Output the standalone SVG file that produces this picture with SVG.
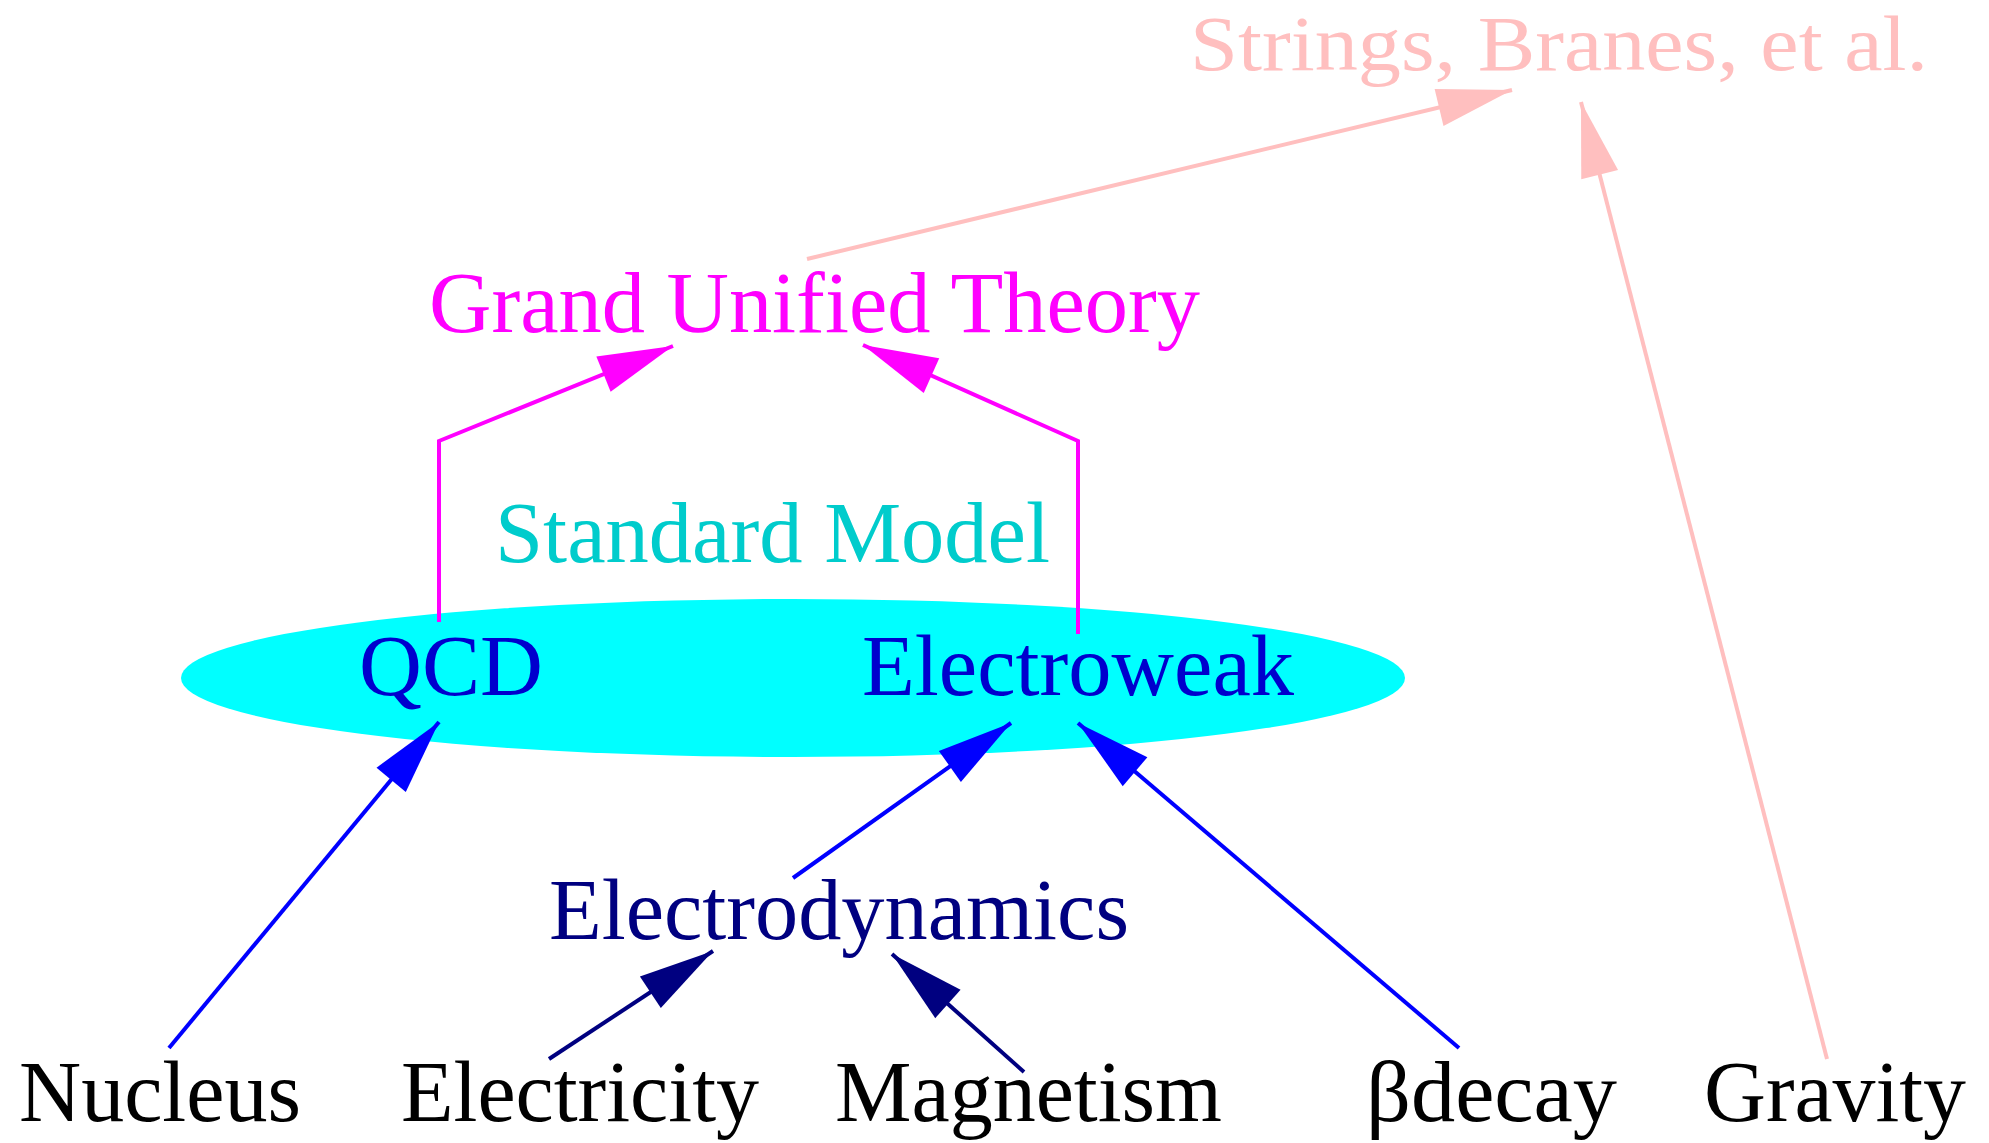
<svg xmlns="http://www.w3.org/2000/svg" width="1989" height="1143" viewBox="0 0 1989 1143">
<style>
text{font-family:"Liberation Serif","Times New Roman",serif;font-size:86px}
.e{fill:none;stroke-width:4}
</style>
<defs>
<marker id="ap" markerUnits="userSpaceOnUse" markerWidth="82" markerHeight="44" viewBox="-78 -22 80 44" refX="0" refY="0" orient="auto"><path d="M0,0 L-75,-19 L-75,19 z" fill="#ffbfbf"/></marker>
<marker id="am" markerUnits="userSpaceOnUse" markerWidth="82" markerHeight="44" viewBox="-78 -22 80 44" refX="0" refY="0" orient="auto"><path d="M0,0 L-75,-19 L-75,19 z" fill="#ff00ff"/></marker>
<marker id="ab" markerUnits="userSpaceOnUse" markerWidth="82" markerHeight="44" viewBox="-78 -22 80 44" refX="0" refY="0" orient="auto"><path d="M0,0 L-75,-19 L-75,19 z" fill="#0000ff"/></marker>
<marker id="an" markerUnits="userSpaceOnUse" markerWidth="82" markerHeight="44" viewBox="-78 -22 80 44" refX="0" refY="0" orient="auto"><path d="M0,0 L-75,-19 L-75,19 z" fill="#000080"/></marker>
</defs>
<rect width="1989" height="1143" fill="#ffffff"/>
<g id="standard_model">
<ellipse cx="793" cy="678" rx="612" ry="79" fill="#00ffff"/>
<text x="495" y="562" fill="#00cccc" textLength="555" lengthAdjust="spacingAndGlyphs">Standard Model</text>
</g>
<g id="connectors">
<path class="e" stroke="#ffbfbf" d="M807,259 L1512,90" marker-end="url(#ap)"/>
<path class="e" stroke="#ffbfbf" d="M1827,1059 L1581,102" marker-end="url(#ap)"/>
<path class="e" stroke="#ff00ff" d="M439,622 L439,441 L673,346" marker-end="url(#am)"/>
<path class="e" stroke="#ff00ff" d="M1078,634 L1078,441 L863,345" marker-end="url(#am)"/>
<path class="e" stroke="#0000ff" d="M169,1048 L439,722" marker-end="url(#ab)"/>
<path class="e" stroke="#0000ff" d="M793,878 L1011,723" marker-end="url(#ab)"/>
<path class="e" stroke="#0000ff" d="M1459,1048 L1078,723" marker-end="url(#ab)"/>
<path class="e" stroke="#000080" d="M549,1059 L713,951" marker-end="url(#an)"/>
<path class="e" stroke="#000080" d="M1024,1072 L892,954" marker-end="url(#an)"/>
</g>
<g id="strings"><text x="1190" y="70" fill="#ffbfbf" style="font-size:78px" textLength="738" lengthAdjust="spacingAndGlyphs">Strings, Branes, et al.</text></g>
<g id="gut"><text x="429" y="332" fill="#ff00ff" textLength="771" lengthAdjust="spacingAndGlyphs">Grand Unified Theory</text></g>
<g id="qcd"><text x="359" y="695" fill="#0000cd" textLength="184" lengthAdjust="spacingAndGlyphs">QCD</text></g>
<g id="electroweak"><text x="862" y="695" fill="#0000cd" textLength="432" lengthAdjust="spacingAndGlyphs">Electroweak</text></g>
<g id="electrodynamics"><text x="549" y="939" fill="#000080" textLength="580" lengthAdjust="spacingAndGlyphs">Electrodynamics</text></g>
<g id="nucleus"><text x="19" y="1121" fill="#000000" textLength="282" lengthAdjust="spacingAndGlyphs">Nucleus</text></g>
<g id="electricity"><text x="401" y="1121" fill="#000000" textLength="358" lengthAdjust="spacingAndGlyphs">Electricity</text></g>
<g id="magnetism"><text x="835" y="1121" fill="#000000" textLength="387" lengthAdjust="spacingAndGlyphs">Magnetism</text></g>
<g id="beta"><text x="1366" y="1121" fill="#000000" textLength="251" lengthAdjust="spacingAndGlyphs">βdecay</text></g>
<g id="gravity"><text x="1704" y="1121" fill="#000000" textLength="262" lengthAdjust="spacingAndGlyphs">Gravity</text></g>
</svg>
